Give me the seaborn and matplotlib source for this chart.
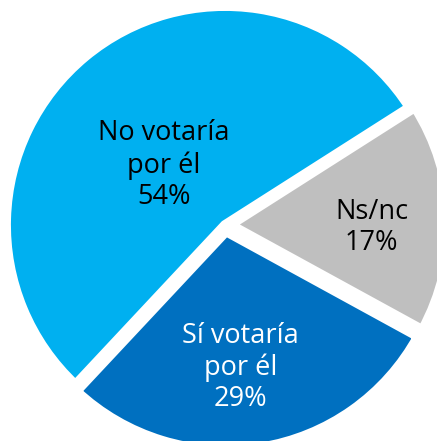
import numpy as np
import seaborn as sns
import matplotlib
matplotlib.use("Agg")
import matplotlib.pyplot as plt

# data
labels = ["No votaría\npor él", "Sí votaría\npor él", "Ns/nc"]
values = [54, 29, 17]
colors = ["#00B0F0", "#0070C0", "#BFBFBF"]
text_colors = ["black", "white", "black"]

sns.set_theme(style="white")
plt.rcParams['font.family'] = ['Open Sans', 'DejaVu Sans']

fig = plt.figure(figsize=(4.37, 4.41), dpi=100)
ax = fig.add_axes([0, 0, 1, 1])

wedges, _ = ax.pie(values, colors=colors, startangle=32.5, counterclock=True,
                   explode=[0, 0.03, 0.025], radius=1.023,
                   wedgeprops=dict(edgecolor="white", linewidth=7))

# label placement (distance from centre, angle offset from wedge middle)
dist = [0.40, 0.64, 0.66]
shift = [6, -3, -3]
for w, lab, v, tc, d, s in zip(wedges, labels, values, text_colors, dist, shift):
    ang = np.deg2rad((w.theta1 + w.theta2) / 2 + s)
    cx, cy = w.center
    ax.text(cx + d * np.cos(ang), cy + d * np.sin(ang), f"{lab}\n{v}%",
            ha="center", va="center", color=tc, fontsize=19.5, linespacing=1.17)

ax.set_aspect("auto")
ax.set_xlim(-225 / 214, 212 / 214)
ax.set_ylim(-216 / 214, 225 / 214)
ax.axis("off")

fig.savefig("out.png", dpi=100)
